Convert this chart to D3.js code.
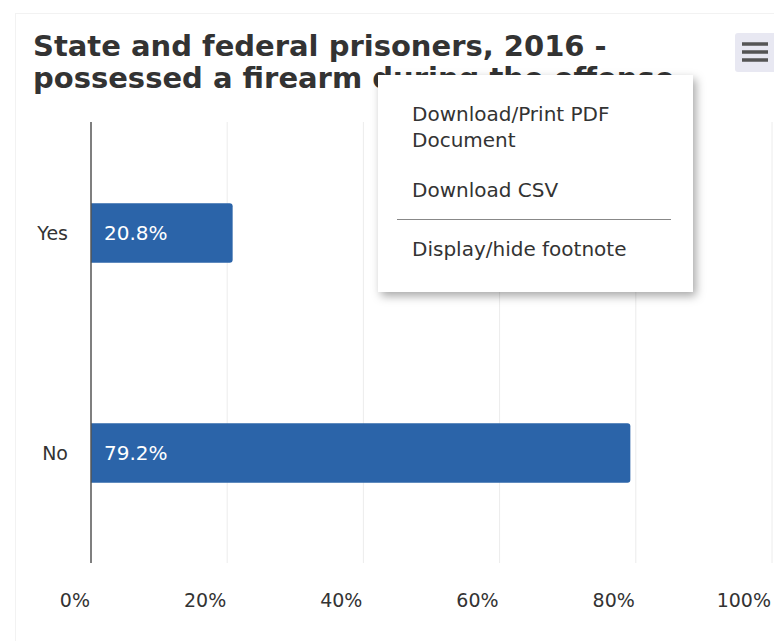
<!DOCTYPE html>
<html>
<head>
<meta charset="utf-8">
<script src="https://cdn.jsdelivr.net/npm/d3@7"></script>
<style>
    body { margin: 0; background: #fff; font-family: "DejaVu Sans", Verdana, sans-serif; }
    #wrap { position: relative; width: 774px; height: 641px; overflow: hidden; }
    #menu {
        position: absolute; left: 378px; top: 75px; width: 315px; height: 217px;
        background: #fff; box-shadow: 3px 4px 9px rgba(0,0,0,0.35);
        color: #333; font-size: 20px;
    }
    #menu .item { position: absolute; left: 34px; line-height: 26px; }
    #menu hr { position: absolute; left: 19px; top: 144px; width: 274px; margin: 0; border: 0; border-top: 1px solid #888; }
</style>
</head>
<body>
<div id="wrap">
    <svg id="chart" width="774" height="641"></svg>
    <div id="menu">
        <div class="item" style="top:26px">Download/Print PDF<br>Document</div>
        <div class="item" style="top:102px">Download CSV</div>
        <div class="item" style="top:161px">Display/hide footnote</div>
        <hr>
    </div>
</div>
<script>
// 資料
const categories = ['Yes', 'No'];
const values = [20.8, 79.2];
const tickValues = [0, 20, 40, 60, 80, 100];
const titleLines = ['State and federal prisoners, 2016 -', 'possessed a firearm during the offense'];

const svg = d3.select('#chart');
const margin = { top: 123, right: 2, bottom: 78, left: 91 };
const width = 774, height = 641;

// 外框（很淡）
svg.append('rect')
    .attr('x', 15.5).attr('y', 13.5)
    .attr('width', 780).attr('height', 700)
    .attr('fill', 'none').attr('stroke', '#f2f2f2');

// 標題
svg.append('g').selectAll('text')
    .data(titleLines)
    .join('text')
    .attr('x', 33)
    .attr('y', (d, i) => 56 + i * 32)
    .attr('fill', '#333')
    .attr('font-size', '29px')
    .attr('font-weight', 'bold')
    .text(d => d);

// 比例尺
const x = d3.scaleLinear()
    .domain([0, 100])
    .range([margin.left, width - margin.right]);

const y = d3.scaleBand()
    .domain(categories)
    .range([margin.top, height - margin.bottom])
    .padding(0);

const barH = y.bandwidth() * 0.27;

// 格線
svg.append('g').selectAll('line')
    .data(tickValues.slice(1))
    .join('line')
    .attr('x1', d => x(d)).attr('x2', d => x(d))
    .attr('y1', margin.top - 1).attr('y2', height - margin.bottom)
    .attr('stroke', '#ececec');

// X 軸標籤（右對齊到刻度）
svg.append('g').selectAll('text')
    .data(tickValues)
    .join('text')
    .attr('x', d => x(d) - 1)
    .attr('y', 607)
    .attr('text-anchor', 'end')
    .attr('fill', '#333')
    .attr('font-size', '19px')
    .text(d => d + '%');

// 長條 - 右側圓角
function barPath(x0, x1, yTop, h, r) {
    return `M${x0},${yTop}H${x1 - r}Q${x1},${yTop} ${x1},${yTop + r}` +
        `V${yTop + h - r}Q${x1},${yTop + h} ${x1 - r},${yTop + h}H${x0}Z`;
}

const data = categories.map((c, i) => ({ cat: c, value: values[i] }));

svg.append('g').selectAll('path')
    .data(data)
    .join('path')
    .attr('d', d => barPath(x(0), x(d.value), y(d.cat) + (y.bandwidth() - barH) / 2, barH, 3))
    .attr('fill', '#2b64a9');

// 數值標籤
svg.append('g').selectAll('text')
    .data(data)
    .join('text')
    .attr('x', x(0) + 13)
    .attr('y', d => y(d.cat) + y.bandwidth() / 2 + 7)
    .attr('fill', '#fff')
    .attr('font-size', '20px')
    .text(d => d.value.toFixed(1) + '%');

// 類別標籤
svg.append('g').selectAll('text')
    .data(categories)
    .join('text')
    .attr('x', 68)
    .attr('y', d => y(d) + y.bandwidth() / 2 + 7)
    .attr('text-anchor', 'end')
    .attr('fill', '#333')
    .attr('font-size', '19px')
    .text(d => d);

// 軸線
svg.append('line')
    .attr('x1', x(0)).attr('x2', x(0))
    .attr('y1', margin.top - 1).attr('y2', height - margin.bottom)
    .attr('stroke', '#555').attr('stroke-width', 1.5);

// 選單按鈕
const btn = svg.append('g').attr('transform', 'translate(735,33)');
btn.append('rect')
    .attr('width', 42).attr('height', 39).attr('rx', 3)
    .attr('fill', '#e8e8f2');
btn.selectAll('line')
    .data([11, 19, 27])
    .join('line')
    .attr('x1', 7).attr('x2', 33)
    .attr('y1', d => d).attr('y2', d => d)
    .attr('stroke', '#555').attr('stroke-width', 3.5);
</script>
</body>
</html>
